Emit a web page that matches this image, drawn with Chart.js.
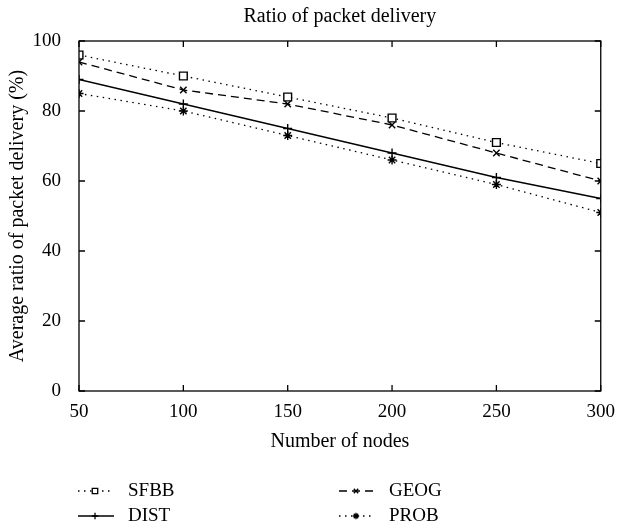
<!DOCTYPE html>
<html>
<head>
<meta charset="utf-8">
<script src="https://cdn.jsdelivr.net/npm/chart.js@4.4.1/dist/chart.umd.min.js"></script>
<style>
  html, body { margin: 0; padding: 0; background: #fff; }
  #wrap { width: 617px; height: 529px; }
</style>
</head>
<body>
<div id="wrap"><canvas id="chart" width="617" height="529"></canvas></div>
<script>
// Data
const nodes = [50, 100, 150, 200, 250, 300];
const sfbb = [96, 90, 84, 78, 71, 65];
const geog = [94, 86, 82, 76, 68, 60];
const dist = [89, 82, 75, 68, 61, 55];
const prob = [85, 80, 73, 66, 59, 51];
const yTicks = [0, 20, 40, 60, 80, 100];
const chartTitle = "Ratio of packet delivery";

const FONT = "'Liberation Serif', 'DejaVu Serif', serif";

function pts(values) {
  return values.map((v, i) => ({ x: nodes[i], y: v }));
}

// frame, inward tick marks on all four sides, and the title over the plot
const frameTicks = {
  id: "frameTicks",
  afterDraw(chart) {
    const ctx = chart.ctx;
    const a = chart.chartArea;
    const xs = chart.scales.x, ys = chart.scales.y;
    ctx.save();
    ctx.strokeStyle = "#000";
    ctx.lineWidth = 1.3;
    ctx.strokeRect(a.left, a.top, a.right - a.left, a.bottom - a.top);
    ctx.beginPath();
    nodes.forEach(n => {
      const px = xs.getPixelForValue(n);
      ctx.moveTo(px, a.bottom); ctx.lineTo(px, a.bottom - 6);
      ctx.moveTo(px, a.top); ctx.lineTo(px, a.top + 6);
    });
    yTicks.forEach(t => {
      const py = ys.getPixelForValue(t);
      ctx.moveTo(a.left, py); ctx.lineTo(a.left + 6, py);
      ctx.moveTo(a.right, py); ctx.lineTo(a.right - 6, py);
    });
    ctx.stroke();

    ctx.fillStyle = "#000";
    ctx.font = "20px " + FONT;
    ctx.textAlign = "center";
    ctx.textBaseline = "middle";
    ctx.fillText(chartTitle, (a.left + a.right) / 2, 17);
    ctx.restore();
  }
};

// legend below the plot: two columns, line sample + marker + label
const bottomLegend = {
  id: "bottomLegend",
  afterDraw(chart) {
    const ctx = chart.ctx;
    const spots = [[78, 491], [339, 491], [78, 516], [339, 516]];
    chart.data.datasets.forEach((ds, i) => {
      const [x, y] = spots[i];
      ctx.save();
      ctx.strokeStyle = "#000";
      ctx.lineWidth = 1.3;
      ctx.setLineDash(ds.borderDash.length ? ds.borderDash : []);
      ctx.beginPath();
      ctx.moveTo(x, y); ctx.lineTo(x + 36, y);
      ctx.stroke();
      ctx.setLineDash([]);
      ctx.fillStyle = "#fff";
      Chart.helpers.drawPoint(ctx, {
        pointStyle: ds.pointStyle,
        radius: ds.pointRadius * 0.7,
        borderWidth: 1.2,
        rotation: 0
      }, x + 17, y);
      ctx.fillStyle = "#000";
      ctx.font = "19px " + FONT;
      ctx.textBaseline = "middle";
      ctx.fillText(ds.label, x + 50, y);
      ctx.restore();
    });
  }
};

new Chart(document.getElementById("chart"), {
  type: "line",
  data: {
    datasets: [
      { label: "SFBB", data: pts(sfbb), borderDash: [1.5, 4.5], pointStyle: "rect", pointRadius: 5.5 },
      { label: "GEOG", data: pts(geog), borderDash: [8, 5], pointStyle: "crossRot", pointRadius: 4.5 },
      { label: "DIST", data: pts(dist), borderDash: [], pointStyle: "cross", pointRadius: 4.5 },
      { label: "PROB", data: pts(prob), borderDash: [1.5, 4.5], pointStyle: "star", pointRadius: 4.5 }
    ].map(d => Object.assign({
      borderColor: "#000",
      backgroundColor: "#fff",
      pointBorderColor: "#000",
      pointBackgroundColor: "#fff",
      borderWidth: 1.3,
      pointBorderWidth: 1.4,
      tension: 0,
      fill: false
    }, d))
  },
  options: {
    responsive: false,
    animation: false,
    layout: { padding: { top: 41, right: 0, bottom: 75, left: 0 } },
    plugins: {
      legend: { display: false },
      tooltip: { enabled: false },
      title: { display: false }
    },
    scales: {
      x: {
        type: "linear",
        min: 50, max: 300,
        ticks: { stepSize: 50, color: "#000", font: { family: FONT, size: 19 }, padding: 2 },
        grid: { display: false },
        border: { display: false },
        title: { display: true, text: "Number of nodes", color: "#000", font: { family: FONT, size: 20 }, padding: { top: 4, bottom: 0 } },
        afterFit(s) { s.height = 63; }
      },
      y: {
        min: 0, max: 100,
        ticks: { stepSize: 20, color: "#000", font: { family: FONT, size: 19 }, padding: 10 },
        grid: { display: false },
        border: { display: false },
        title: { display: true, text: "Average ratio of packet delivery (%)", color: "#000", font: { family: FONT, size: 20 }, padding: { top: 6, bottom: 0 } },
        afterFit(s) { s.width = 79; }
      }
    }
  },
  plugins: [frameTicks, bottomLegend]
});
</script>
</body>
</html>
